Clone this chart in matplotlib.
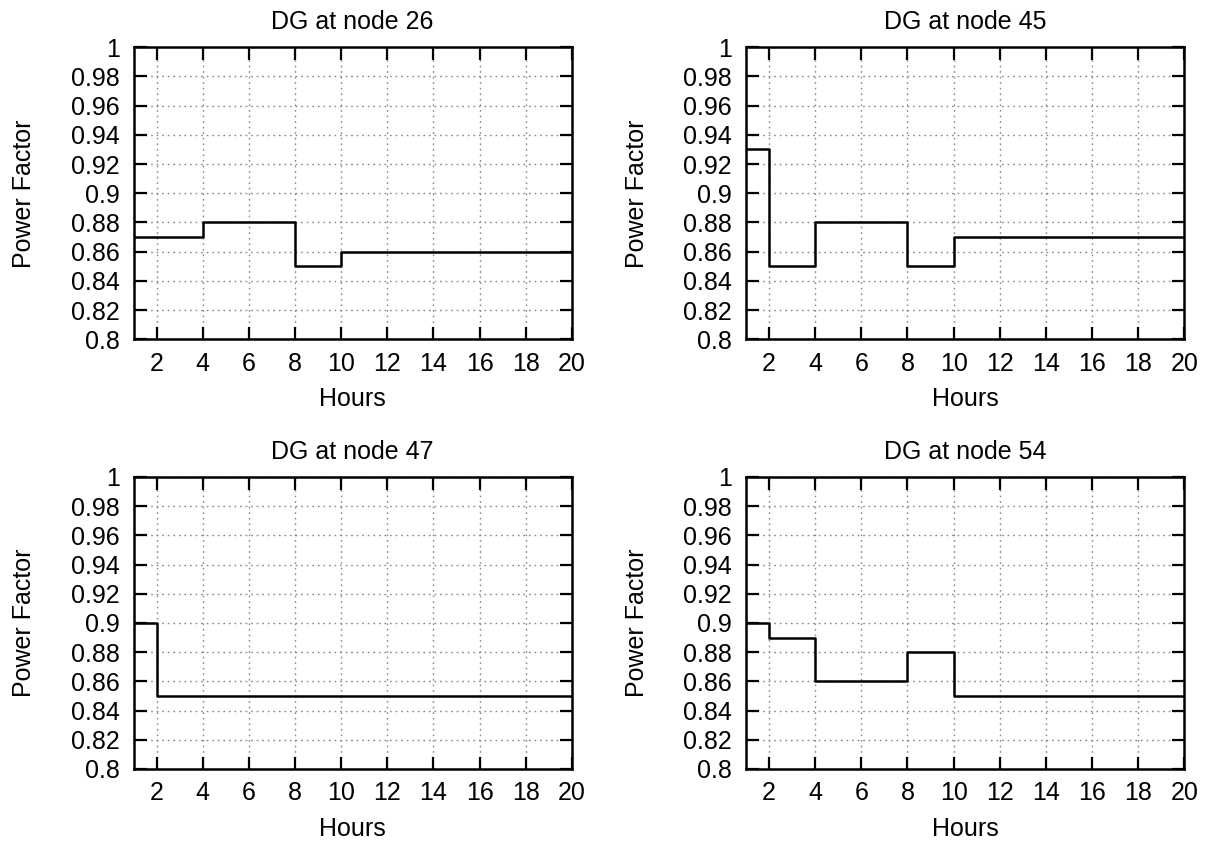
import matplotlib
matplotlib.use("Agg")
from matplotlib import pyplot as plt

plt.rcParams['font.family'] = ['Liberation Sans', 'DejaVu Sans']
plt.rcParams['font.size'] = 18

# hourly power factor per DG unit
hours = list(range(1, 21))
pf_26 = [0.87]*3 + [0.88]*4 + [0.85]*2 + [0.86]*11
pf_45 = [0.93] + [0.85]*2 + [0.88]*4 + [0.85]*2 + [0.87]*11
pf_47 = [0.90] + [0.85]*19
pf_54 = [0.90] + [0.89]*2 + [0.86]*4 + [0.88]*2 + [0.85]*11
nodes = [26, 45, 47, 54]
series = [pf_26, pf_45, pf_47, pf_54]

xticks = list(range(2, 21, 2))
yticks = [0.8, 0.82, 0.84, 0.86, 0.88, 0.9, 0.92, 0.94, 0.96, 0.98, 1]
ylabels = ['0.8', '0.82', '0.84', '0.86', '0.88', '0.9', '0.92', '0.94', '0.96', '0.98', '1']

fig = plt.figure(figsize=(12.14, 8.44), dpi=100)
pos = [[0.110, 0.598, 0.361, 0.346], [0.6145, 0.598, 0.361, 0.346],
       [0.110, 0.0889, 0.361, 0.346], [0.6145, 0.0889, 0.361, 0.346]]

for p, node, y in zip(pos, nodes, series):
    ax = fig.add_axes(p)
    ax.step(hours, y, where='post', color='black', lw=1.8)
    ax.set_xlim(1, 20)
    ax.set_ylim(0.8, 1.0)
    ax.set_xticks(xticks)
    ax.set_yticks(yticks)
    ax.set_yticklabels(ylabels)
    ax.grid(True, color='#888888', linestyle=(0, (1.2, 2.8)), lw=1.0)
    ax.tick_params(direction='in', top=True, right=True, length=9, width=1.6)
    ax.tick_params(axis='y', pad=10)
    ax.tick_params(axis='x', pad=9)
    for s in ax.spines.values():
        s.set_linewidth(1.8)
    ax.set_title('DG at node %d' % node, fontsize=18, pad=13)
    ax.set_xlabel('Hours', labelpad=8)
    ax.set_ylabel('Power Factor', labelpad=25)

plt.savefig('out.png')
